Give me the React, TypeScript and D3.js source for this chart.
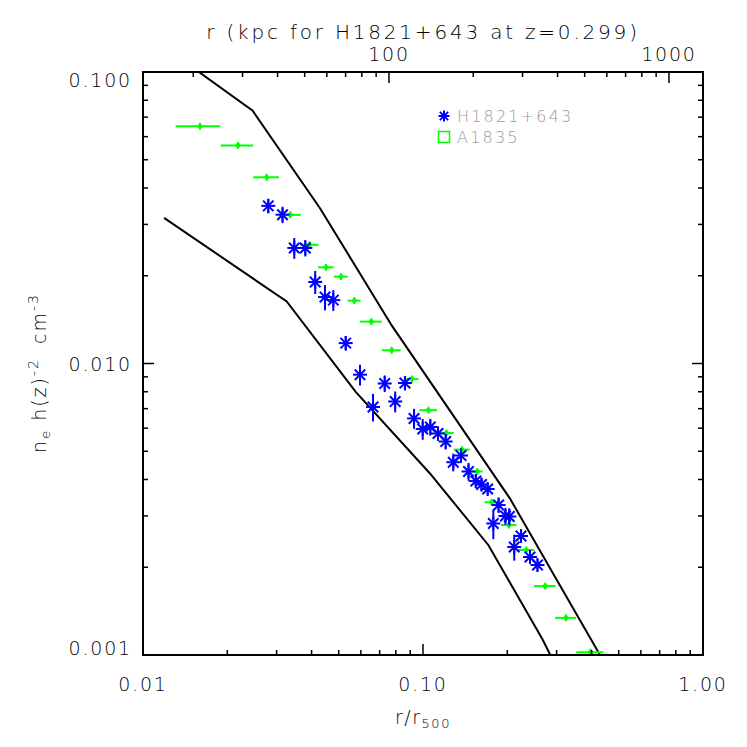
import React from 'react';
import * as d3 from 'd3';

// ---------- data ----------
const R500_KPC = 1323; // kpc for H1821+643 at z=0.299

const modelUpperX = [0.0155, 0.02465, 0.04287, 0.0773, 0.2045, 0.4287];
const modelUpperY = [0.1015, 0.0736, 0.0341, 0.01351, 0.00344, 0.001];

const modelLowerX = [0.01189, 0.0326, 0.0576, 0.1059, 0.1711, 0.268, 0.291];
const modelLowerY = [0.0316, 0.01632, 0.00798, 0.004195, 0.002385, 0.001126, 0.00096];

const a1835X = [0.01598, 0.02184, 0.02765, 0.03358, 0.03936, 0.04504, 0.05094, 0.05684, 0.06538, 0.07729, 0.09134, 0.1046, 0.1213, 0.1378, 0.1563, 0.176, 0.2028, 0.2338, 0.2732, 0.3241, 0.3965];
const a1835Y = [0.0651, 0.056, 0.04353, 0.03235, 0.02554, 0.02138, 0.01986, 0.01643, 0.01392, 0.0111, 0.00885, 0.006916, 0.005776, 0.005066, 0.004261, 0.003342, 0.002793, 0.002292, 0.001724, 0.001341, 0.001022];
const a1835Xerr = [0.0029, 0.0029, 0.0029, 0.003, 0.003, 0.0029, 0.0029, 0.003, 0.0059, 0.006, 0.005, 0.0075, 0.0075, 0.009, 0.007, 0.01, 0.013, 0.016, 0.024, 0.0275, 0.044];

const h1821X = [0.02802, 0.0315, 0.0347, 0.03799, 0.04121, 0.04467, 0.04783, 0.05296, 0.05957, 0.0663, 0.07298, 0.07955, 0.0862, 0.0929, 0.09975, 0.1062, 0.1131, 0.1205, 0.1283, 0.1367, 0.1454, 0.1544, 0.1618, 0.1702, 0.1862, 0.1783, 0.197, 0.2033, 0.2239, 0.2118, 0.2411, 0.2564];
const h1821Y = [0.03473, 0.0324, 0.02491, 0.02491, 0.01904, 0.0169, 0.0165, 0.01175, 0.009154, 0.007094, 0.008539, 0.007408, 0.008572, 0.00648, 0.005963, 0.006058, 0.005754, 0.0054, 0.004585, 0.004835, 0.004261, 0.003952, 0.003845, 0.003711, 0.003269, 0.002826, 0.002998, 0.002986, 0.00256, 0.002347, 0.002169, 0.002036];
const h1821Yerr = [0.002, 0.0021, 0.00205, 0.00162, 0.00173, 0.00168, 0.00136, 0.00067, 0.00075, 0.00077, 0.00056, 0.00061, 0.00049, 0.00051, 0.00049, 0.0004, 0.00033, 0.00033, 0.00032, 0.00027, 0.0003, 0.00022, 0.0002, 0.00018, 0.0002, 0.00033, 0.0002, 0.0002, 0.00012, 0.00024, 0.0001, 0.0001];

const xTickValues = [0.01, 0.1, 1];
const xTickLabels = ['0.01', '0.10', '1.00'];
const yTickValues = [0.001, 0.01, 0.1];
const yTickLabels = ['0.001', '0.010', '0.100'];
const topTickValues = [100, 1000];
const topTickLabels = ['100', '1000'];

const seriesNames = ['H1821+643', 'A1835'];

// ---------- layout ----------
const W = 747, H = 747;
const L = 143, R = 703, T = 72, B = 655;
const FONT = 'DejaVu Sans, sans-serif';

function logTicks(lo: number, hi: number) {
  const out: { v: number; major: boolean }[] = [];
  for (let k = Math.floor(Math.log10(lo)) - 1; k <= Math.ceil(Math.log10(hi)); k++) {
    for (let m = 1; m <= 9; m++) {
      const v = m * Math.pow(10, k);
      if (v >= lo * 0.9999 && v <= hi * 1.0001) out.push({ v, major: m === 1 });
    }
  }
  return out;
}

function Asterisk({ x, y, s, color }: { x: number; y: number; s: number; color: string }) {
  const d = s * 0.75;
  return (
    <g stroke={color} strokeWidth={2}>
      <line x1={x - s} y1={y} x2={x + s} y2={y} />
      <line x1={x} y1={y - s} x2={x} y2={y + s} />
      <line x1={x - d} y1={y - d} x2={x + d} y2={y + d} />
      <line x1={x - d} y1={y + d} x2={x + d} y2={y - d} />
    </g>
  );
}

export default function App() {
  const x = d3.scaleLog().domain([0.01, 1]).range([L, R]);
  const y = d3.scaleLog().domain([0.001, 0.1]).range([B, T]);
  const xTop = d3.scaleLog().domain([0.01 * R500_KPC, 1 * R500_KPC]).range([L, R]);

  const line = d3.line<[number, number]>().x(d => x(d[0])).y(d => y(d[1]));
  const upper = line(modelUpperX.map((v, i) => [v, modelUpperY[i]] as [number, number])) || '';
  const lower = line(modelLowerX.map((v, i) => [v, modelLowerY[i]] as [number, number])) || '';

  const xt = logTicks(0.01, 1);
  const yt = logTicks(0.001, 0.1);
  const tt = logTicks(0.01 * R500_KPC, R500_KPC);

  const MAJ = 11, MIN = 5;
  const green = '#00ff00', blue = '#0000ff';

  return (
    <svg width={W} height={H} style={{ position: 'absolute', left: 0, top: 0, background: '#fff' }} fontFamily={FONT} fontWeight={200}>
      <rect x={0} y={0} width={W} height={H} fill="#fff" />
      <defs>
        <clipPath id="plotclip">
          <rect x={L} y={T} width={R - L} height={B - T} />
        </clipPath>
      </defs>

      {/* model envelope lines */}
      <g clipPath="url(#plotclip)" fill="none" stroke="#000" strokeWidth={2}>
        <path d={upper} />
        <path d={lower} />
      </g>

      {/* A1835 */}
      <g clipPath="url(#plotclip)">
        {a1835X.map((v, i) => {
          const cx = x(v), cy = y(a1835Y[i]);
          return (
            <g key={'g' + i} stroke={green} strokeWidth={2}>
              <line x1={x(v - a1835Xerr[i])} y1={cy} x2={x(v + a1835Xerr[i])} y2={cy} />
              <line x1={cx} y1={cy - 3.5} x2={cx} y2={cy + 3.5} />
              <circle cx={cx} cy={cy} r={2.4} fill={green} stroke="none" />
            </g>
          );
        })}
      </g>

      {/* H1821+643 */}
      <g clipPath="url(#plotclip)">
        {h1821X.map((v, i) => {
          const cx = x(v), cy = y(h1821Y[i]);
          return (
            <g key={'b' + i}>
              <line x1={cx} y1={y(h1821Y[i] - h1821Yerr[i])} x2={cx} y2={y(h1821Y[i] + h1821Yerr[i])} stroke={blue} strokeWidth={2} />
              <Asterisk x={cx} y={cy} s={7} color={blue} />
            </g>
          );
        })}
      </g>

      {/* frame */}
      <rect x={L} y={T} width={R - L} height={B - T} fill="none" stroke="#000" strokeWidth={2} />

      {/* bottom ticks */}
      {xt.map((t, i) => (
        <line key={'xb' + i} x1={x(t.v)} x2={x(t.v)} y1={B} y2={B - (t.major ? MAJ : MIN)} stroke="#000" strokeWidth={1.5} />
      ))}
      {/* top ticks (kpc) */}
      {tt.map((t, i) => (
        <line key={'xt' + i} x1={xTop(t.v)} x2={xTop(t.v)} y1={T} y2={T + (t.major ? MAJ : MIN)} stroke="#000" strokeWidth={1.5} />
      ))}
      {/* left & right ticks */}
      {yt.map((t, i) => (
        <g key={'y' + i} stroke="#000" strokeWidth={1.5}>
          <line x1={L} x2={L + (t.major ? MAJ : MIN)} y1={y(t.v)} y2={y(t.v)} />
          <line x1={R} x2={R - (t.major ? MAJ : MIN)} y1={y(t.v)} y2={y(t.v)} />
        </g>
      ))}

      {/* tick labels */}
      <g fontSize={19} fill="#000" letterSpacing={1.8}>
        {xTickValues.map((v, i) => (
          <text key={'xl' + i} x={x(v)} y={691} textAnchor="middle">{xTickLabels[i]}</text>
        ))}
        {yTickValues.map((v, i) => {
          const py = i === 0 ? y(v) - 7 : i === 2 ? y(v) + 8 : y(v);
          return (
            <text key={'yl' + i} x={132} y={py + 7} textAnchor="end">{yTickLabels[i]}</text>
          );
        })}
        {topTickValues.map((v, i) => (
          <text key={'tl' + i} x={xTop(v)} y={61} textAnchor="middle">{topTickLabels[i]}</text>
        ))}
      </g>

      {/* axis titles */}
      <text x={423} y={39} textAnchor="middle" fontSize={20} letterSpacing={2.8}>r (kpc for H1821+643 at z=0.299)</text>
      <text x={423} y={724} textAnchor="middle" fontSize={19} letterSpacing={1.5}>
        r/r<tspan fontSize={13} dy={4}>500</tspan>
      </text>
      <text transform={`translate(46,373) rotate(-90)`} textAnchor="middle" fontSize={19} letterSpacing={2}>
        n<tspan fontSize={13} dy={4}>e</tspan>
        <tspan dy={-4} dx={8}>h(z)</tspan>
        <tspan fontSize={14} dy={-8}>-2</tspan>
        <tspan dy={8} dx={14}>cm</tspan>
        <tspan fontSize={14} dy={-8}>-3</tspan>
      </text>

      {/* legend */}
      <Asterisk x={444} y={116} s={5.5} color={blue} />
      <text x={457} y={122} fontSize={16} fill="#999" letterSpacing={2.2}>{seriesNames[0]}</text>
      <rect x={438.5} y={131.5} width={11} height={11} fill="none" stroke={green} strokeWidth={1.5} />
      <text x={457} y={143} fontSize={16} fill="#999" letterSpacing={2.2}>{seriesNames[1]}</text>
    </svg>
  );
}
